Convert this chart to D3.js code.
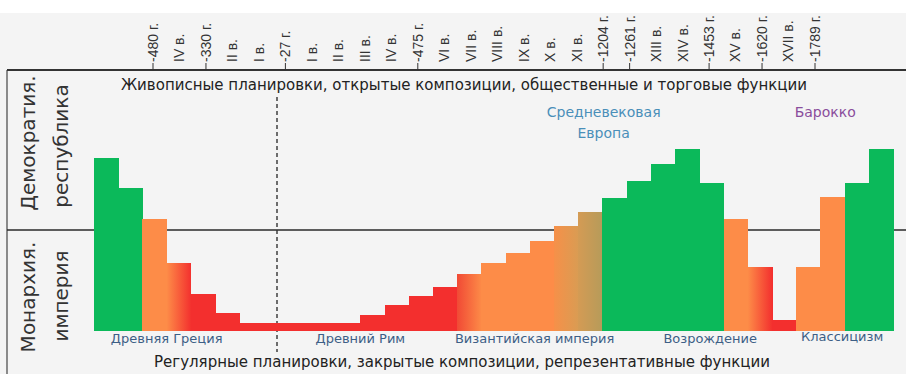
<!DOCTYPE html>
<html><head><meta charset="utf-8">
<script src="https://cdn.jsdelivr.net/npm/d3@7/dist/d3.min.js"></script>
<style>body{margin:0;background:#fff}svg{display:block}</style></head>
<body><svg id="c" width="906" height="374"></svg>
<script>
// ---- data ----
const periods = ["V до н.э. a","V до н.э. b","IV до н.э.","IV–III до н.э.","II до н.э.","I до н.э.",
  "I н.э.","II н.э.","III н.э. a","III н.э. b","III н.э. c","IV н.э.","IV–V","V","VI","VII",
  "VIII","IX","X","XI a","XI b","XII","XIII a","XIII b","XIV","XIV–XV","XV","XVI","XVII a","XVII b","XVIII","XIX a","XIX b"];
const values = [86.5,71.5,56,34,18.5,9, 4,4,4,4,4, 8,13,17.5,22,28.5,34,39,45,52.5,59.5,
  66.5,75,83.5,91,74, 56,32,5.5,32,67,74,91];
const tones = ["demo","demo","mon","mon-fall","fall","fall","fall","fall","fall","fall","fall",
  "fall","fall","fall","fall","rise","mon","mon","mon","trans1","trans2",
  "demo","demo","demo","demo","demo","mon","mon-fall","fall","mon","mon","demo","demo"];
const tickLabels = ["-480 г.","IV в.","-330 г.","II в.","I в.","-27 г.","I в.","II в.","III в.","IV в.",
  "-475 г.","VI в.","VII в.","VIII в.","IX в.","X в.","XI в.","-1204 г.","-1261 г.","XIII в.","XIV в.",
  "-1453 г.","XV в.","-1620 г.","XVII в.","-1789 г."];
const eraNames = ["Древняя Греция","Древний Рим","Византийская империя","Возрождение","Классицизм"];
const eraAt = [3, 11, 18.2, 25.45, 30.9];
const styleNames = [["Средневековая","Европа"],["Барокко"]];
const styleAt = [21.05, 30.2];
const midValue = 50.5;
const topTitle = "Живописные планировки, открытые композиции, общественные и торговые функции";
const bottomTitle = "Регулярные планировки, закрытые композиции, репрезентативные функции";

// ---- drawing ----
const svg = d3.select("#c");
const W = 906, H = 374;
const font = "DejaVu Sans, sans-serif";

svg.append("rect").attr("x",0).attr("y",13).attr("width",W).attr("height",H-13).attr("fill","#f4f4f4");

const x = d3.scaleBand().domain(periods).range([94, 893]).padding(0);
const y = d3.scaleLinear().domain([0, 100]).range([331, 131]);
const idx = d3.scaleLinear().domain([0, periods.length]).range([94, 893]);
const xt = d3.scalePoint().domain(d3.range(tickLabels.length)).range([153, 815]);

const defs = svg.append("defs");
const green = "#0bb95a", orange = "#fd8c48", red = "#f32f2e";
const grads = {
  "mon-fall": [orange, red],
  "rise": ["#f14a35", orange],
  "trans1": ["#f69049", "#d99c53"],
  "trans2": ["#d49b54", "#b59b5a"]
};
Object.entries(grads).forEach(([k, c]) => {
  const g = defs.append("linearGradient").attr("id", "g-" + k).attr("x1",0).attr("x2",1).attr("y1",0).attr("y2",0);
  g.append("stop").attr("offset","0%").attr("stop-color", c[0]);
  g.append("stop").attr("offset","100%").attr("stop-color", c[1]);
});
const fillOf = t => t === "demo" ? green : t === "mon" ? orange : t === "fall" ? red : `url(#g-${t})`;

// frame lines
svg.append("line").attr("x1",7).attr("x2",7).attr("y1",70).attr("y2",H).attr("stroke","#444").attr("stroke-width",1.2);
svg.append("line").attr("x1",7).attr("x2",W).attr("y1",70).attr("y2",70).attr("stroke","#333").attr("stroke-width",2.2);
svg.append("line").attr("x1",7).attr("x2",W).attr("y1",y(midValue)).attr("y2",y(midValue)).attr("stroke","#2a2a2a").attr("stroke-width",1.6);

// dashed divider (start of the common era)
svg.append("line").attr("x1",277).attr("x2",277).attr("y1",97).attr("y2",352)
  .attr("stroke","#333").attr("stroke-width",1.4).attr("stroke-dasharray","4,3");

// bars
svg.append("g").selectAll("rect").data(periods).join("rect")
  .attr("x", d => x(d)).attr("width", x.bandwidth() + 0.6)
  .attr("y", (d,i) => y(values[i])).attr("height", (d,i) => y(0) - y(values[i]))
  .attr("fill", (d,i) => fillOf(tones[i]))
  .attr("shape-rendering","crispEdges");

// header tick labels
const hg = svg.append("g");
tickLabels.forEach((t, i) => {
  const cx = xt(i);
  hg.append("text").attr("transform", `translate(${cx},62) rotate(-90)`)
    .attr("dy","0.35em").attr("text-anchor","start")
    .attr("font-family","Liberation Sans, Arial, sans-serif").attr("font-size",14).attr("fill","#333")
    .text(t);
  if (t.startsWith("-")) {
    hg.append("line").attr("x1",cx).attr("x2",cx).attr("y1",63).attr("y2",71).attr("stroke","#333").attr("stroke-width",1);
  }
});

// left labels
const left = [["Демократия.",28,143],["республика",61,146],["Монархия.",28,297],["империя",61,296]];
left.forEach(([t,cx,cy]) => {
  svg.append("text").attr("transform",`translate(${cx},${cy}) rotate(-90)`)
    .attr("dy","0.35em").attr("text-anchor","middle")
    .attr("font-family",font).attr("font-size",20).attr("fill","#333").text(t);
});

// titles
svg.append("text").attr("x",464).attr("y",90).attr("text-anchor","middle")
  .attr("font-family",font).attr("font-size",15).attr("fill","#222").text(topTitle);
svg.append("text").attr("x",462).attr("y",367).attr("text-anchor","middle")
  .attr("font-family",font).attr("font-size",15).attr("fill","#222").text(bottomTitle);

// era labels
eraNames.forEach((n,i) => {
  svg.append("text").attr("x", idx(eraAt[i])).attr("y", i === 4 ? 341 : 343).attr("text-anchor","middle")
    .attr("font-family",font).attr("font-size",13).attr("fill","#3d5f86").text(n);
});

// style labels
const styleColors = ["#4a8fb9", "#8a4d9c"];
styleNames.forEach((lines,i) => {
  lines.forEach((l,j) => {
    svg.append("text").attr("x", idx(styleAt[i])).attr("y", 117 + j*21).attr("text-anchor","middle")
      .attr("font-family",font).attr("font-size",14).attr("fill",styleColors[i]).text(l);
  });
});
</script></body></html>
